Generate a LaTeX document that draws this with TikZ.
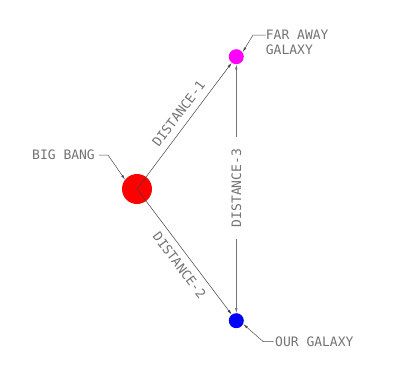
\documentclass[tikz,border=0pt]{standalone}
\usepackage{fontspec}
\setmonofont{DejaVu Sans Mono}
\usetikzlibrary{arrows.meta}
\definecolor{txtgray}{RGB}{115,115,115}
\definecolor{farcol}{RGB}{255,0,255}
\definecolor{bbcol}{RGB}{255,0,0}
\definecolor{ourcol}{RGB}{0,0,255}
\tikzset{
  lbl/.style={font=\ttfamily\fontsize{13}{15}\selectfont, text=txtgray, inner sep=0pt, text height=9.5pt, text depth=0pt},
  ball/.style={circle, inner sep=0pt, draw=none},
  conn/.style={draw=black!75, line width=0.5pt},
  tip/.style={-{Latex[length=5pt,width=2.6pt]}},
  lead/.style={draw=black!70, line width=0.5pt, -{Latex[length=5pt,width=2.4pt]}},
}
\begin{document}
\begin{tikzpicture}[x=1pt,y=-1pt]
\useasboundingbox (0,0) rectangle (400,370);
% bodies
\node[ball, fill=bbcol, minimum size=30pt] (bb) at (137,189) {};
\node[ball, fill=farcol, minimum size=15pt] (far) at (236.3,56.7) {};
\node[ball, fill=ourcol, minimum size=15pt] (our) at (236.3,320.7) {};
% distance lines
\draw[conn, tip] (bb.center) -- node[lbl, sloped, above=7pt, pos=0.54] (d1) {DISTANCE-1} (far);
\draw[conn, tip] (bb.center) -- node[lbl, sloped, below=7pt, pos=0.55] (d2) {DISTANCE-2} (our);
\node[lbl, rotate=90, inner xsep=11.5pt] (d3) at (236.3,188) {DISTANCE-3};
\draw[conn, draw=black!55, {Latex[length=5pt,width=2.6pt]}-] (far) -- (d3);
\draw[conn, draw=black!55, tip] (d3) -- (our);
% labels
\node[lbl, anchor=west] (bbl) at (32,155) {BIG BANG};
\coordinate (bbk) at (108,155);
\draw[lead] ([xshift=4pt]bbl.east) -- (bbk) -- (bb.142);
\node[lbl, anchor=west] (farl) at (265.7,35) {FAR AWAY};
\node[lbl, anchor=west] (farl2) at (265.7,50) {GALAXY};
\coordinate (fark) at (253,35);
\draw[lead] (farl.west) -- (fark) -- (far.35);
\node[lbl, anchor=west] (ourl) at (275,341.7) {OUR GALAXY};
\coordinate (ourk) at (263.3,341.7);
\draw[lead] ([xshift=-1.5pt]ourl.west) -- (ourk) -- (our.-26);
\end{tikzpicture}
\end{document}
